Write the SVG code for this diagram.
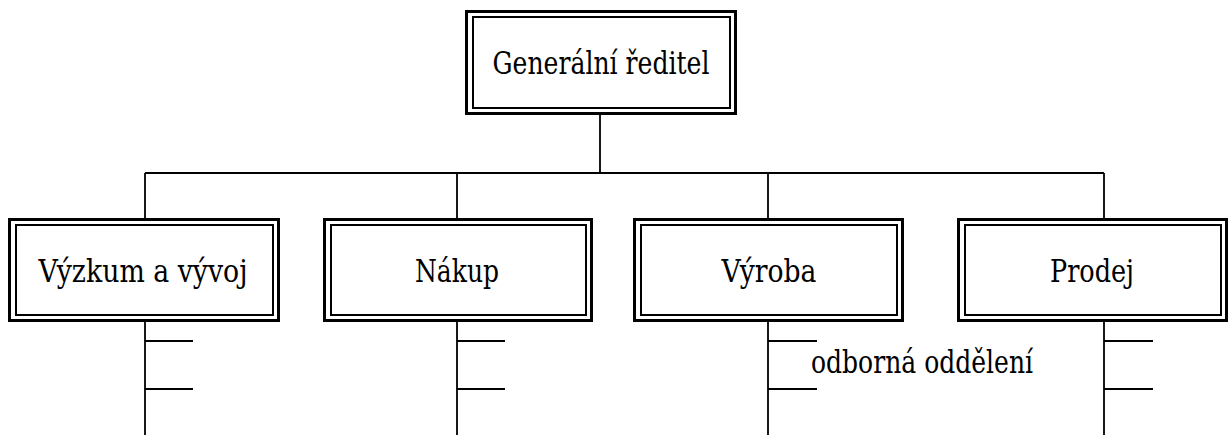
<svg xmlns="http://www.w3.org/2000/svg" width="1232" height="435" viewBox="0 0 1232 435">
  <style>
    .outer { fill: none; stroke: #000; stroke-width: 3; }
    .inner { fill: none; stroke: #000; stroke-width: 2; }
    .line { fill: none; stroke: #000; stroke-width: 1.8; }
    .t { font-family: 'DejaVu Serif', 'Liberation Serif', serif; font-size: 32px; fill: #000; }
    .c { text-anchor: middle; }
  </style>
  <rect width="1232" height="435" fill="#fff"/>

  <!-- connectors -->
  <g id="connectors">
    <path class="line" d="M600 115 V173 M145 173 H1104 M145 173 V218 M457 173 V218 M768 173 V218 M1104 173 V218"/>
    <!-- department stems with section ticks -->
    <path class="line" d="M145 322 V435 M145 341 H193 M145 389 H193"/>
    <path class="line" d="M457 322 V435 M457 341 H505 M457 389 H505"/>
    <path class="line" d="M768 322 V435 M768 341 H817 M768 389 H817"/>
    <path class="line" d="M1104 322 V435 M1104 341 H1153 M1104 389 H1153"/>
  </g>

  <!-- nodes -->
  <g id="node-reditel">
    <rect class="outer" x="466.5" y="11.5" width="269" height="102"/>
    <rect class="inner" x="473" y="17" width="257" height="91"/>
    <text class="t c" x="601" y="74" textLength="217" lengthAdjust="spacingAndGlyphs">Generální ředitel</text>
  </g>
  <g id="node-vyzkum">
    <rect class="outer" x="9.5" y="219.5" width="269" height="101"/>
    <rect class="inner" x="16" y="225" width="257" height="90"/>
    <text class="t c" x="143" y="282" textLength="209" lengthAdjust="spacingAndGlyphs">Výzkum a vývoj</text>
  </g>
  <g id="node-nakup">
    <rect class="outer" x="324.5" y="219.5" width="267" height="101"/>
    <rect class="inner" x="331" y="225" width="255" height="90"/>
    <text class="t c" x="457" y="282" textLength="84" lengthAdjust="spacingAndGlyphs">Nákup</text>
  </g>
  <g id="node-vyroba">
    <rect class="outer" x="634.5" y="219.5" width="268" height="101"/>
    <rect class="inner" x="641" y="225" width="256" height="90"/>
    <text class="t c" x="769" y="282" textLength="95" lengthAdjust="spacingAndGlyphs">Výroba</text>
  </g>
  <g id="node-prodej">
    <rect class="outer" x="958.5" y="219.5" width="268" height="101"/>
    <rect class="inner" x="965" y="225" width="256" height="90"/>
    <text class="t c" x="1092" y="282" textLength="84" lengthAdjust="spacingAndGlyphs">Prodej</text>
  </g>

  <g id="label-oddeleni">
    <text class="t" x="811" y="373" textLength="222" lengthAdjust="spacingAndGlyphs">odborná oddělení</text>
  </g>
</svg>
